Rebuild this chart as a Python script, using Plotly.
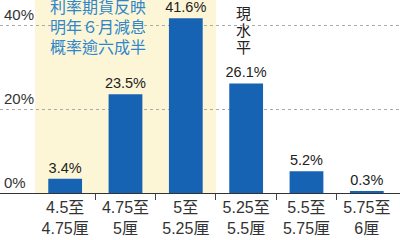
import plotly.graph_objects as go

categories = ["4.5至<br>4.75厘", "4.75至<br>5厘", "5至<br>5.25厘", "5.25至<br>5.5厘", "5.5至<br>5.75厘", "5.75至<br>6厘"]
values = [3.4, 23.5, 41.6, 26.1, 5.2, 0.3]
value_labels = ["3.4%", "23.5%", "41.6%", "26.1%", "5.2%", "0.3%"]
y_ticks = [0, 20, 40]
y_tick_labels = ["0%", "20%", "40%"]
note_lines = ["利率期貨反映", "明年６月減息", "概率逾六成半"]
current_chars = ["現", "水", "平"]

FONT = "Liberation Sans, Arial, Noto Sans CJK TC, sans-serif"
x_idx = list(range(len(categories)))
TOP = 3
PLOT_H = 190.0

fig = go.Figure()
fig.add_trace(go.Bar(
    x=x_idx, y=values, width=0.56,
    marker=dict(color="#1763B3", line=dict(width=0)),
    text=value_labels, textposition="outside", cliponaxis=False, constraintext="none",
    textfont=dict(size=14.5, color="#222222", family=FONT),
    hoverinfo="skip",
))
fig.add_trace(go.Scatter(x=[0], y=[0], xaxis="x2", mode="markers",
                         marker=dict(opacity=0), hoverinfo="skip", showlegend=False))

fig.add_shape(type="rect", xref="x", yref="paper", x0=-0.5, x1=2.5, y0=0, y1=1 + TOP / PLOT_H,
              fillcolor="#FDF6D6", line=dict(width=0), layer="below")

for v, lab in zip(y_ticks, y_tick_labels):
    fig.add_annotation(xref="paper", x=0.005, yref="y", y=v, text=lab, showarrow=False,
                       xanchor="left", yanchor="bottom", yshift=0,
                       font=dict(size=15, color="#333333", family=FONT))

for i, line in enumerate(note_lines):
    fig.add_annotation(xref="x", x=-0.28, yref="paper", y=(PLOT_H + TOP - (8 + 20 * i)) / PLOT_H,
                       text=line, showarrow=False, xanchor="left", yanchor="middle",
                       font=dict(size=16, color="#2F86CB", family=FONT))
for i, ch in enumerate(current_chars):
    fig.add_annotation(xref="x", x=2.95, yref="paper", y=(PLOT_H + TOP - (14 + 16.5 * i)) / PLOT_H,
                       text=ch, showarrow=False, xanchor="center", yanchor="middle",
                       font=dict(size=15, color="#222222", family=FONT))

fig.update_layout(
    width=400, height=240, margin=dict(l=0, r=0, t=TOP, b=47),
    plot_bgcolor="white", paper_bgcolor="white", showlegend=False,
    xaxis=dict(range=[-1.08, 5.55], tickvals=x_idx, ticktext=categories,
               tickfont=dict(size=16, color="#333333", family=FONT),
               showgrid=False, zeroline=False, showline=True, linecolor="#333333", linewidth=1.2,
               ticks="", fixedrange=True),
    xaxis2=dict(range=[-1.08, 5.55], overlaying="x", side="bottom", tickvals=[0.5, 1.5, 2.5, 3.5, 4.5],
                ticktext=["", "", "", "", ""], ticks="outside", ticklen=6, tickcolor="#444444",
                tickwidth=1, showgrid=False, zeroline=False, showline=False),
    yaxis=dict(range=[0, 45.24], tickvals=[20, 40], showticklabels=False, showgrid=True,
               gridcolor="#aaaaaa", griddash="dot", gridwidth=1, zeroline=False, showline=False),
)

fig.write_html("out.html")
